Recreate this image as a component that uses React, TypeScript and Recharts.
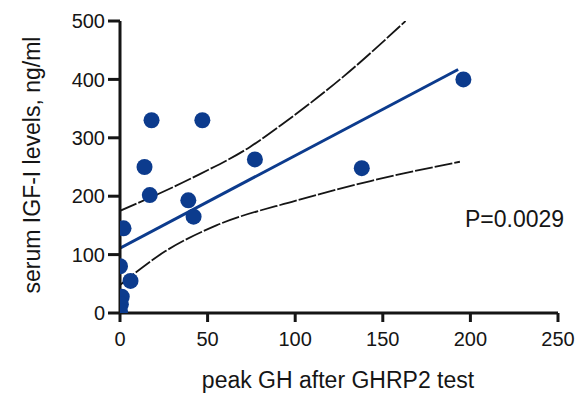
import { ComposedChart, XAxis, YAxis, Scatter, Line } from "recharts";

// peak GH (x) vs serum IGF-I (y)
const peakGH = [18, 47, 14, 17, 77, 138, 196, 39, 42, 2, 0, 6, 1, 0.5, 0];
const igf1 = [330, 330, 250, 202, 263, 248, 400, 193, 165, 145, 80, 55, 28, 15, 3];

// regression line end points
const fitX = [0, 193];
const fitY = [111, 417];

// 95% band, upper and lower curves
const upperX = [0, 45, 74, 92, 128, 163];
const upperY = [175, 237, 284, 322, 406, 500];
const lowerX = [0, 26, 55, 100, 143, 194];
const lowerY = [48, 106, 150, 192, 226, 259];

const xTicks = [0, 50, 100, 150, 200, 250];
const yTicks = [0, 100, 200, 300, 400, 500];

const BLUE = "#0c3b8d";
const INK = "#151515";
const FONT = '"Liberation Sans", Arial, sans-serif';

const pts = peakGH.map((x, i) => ({ x, y: igf1[i] }));
const fit = fitX.map((x, i) => ({ x, y: fitY[i] }));
const upper = upperX.map((x, i) => ({ x, y: upperY[i] }));
const lower = lowerX.map((x, i) => ({ x, y: lowerY[i] }));

const Dot = (p: any) => <circle cx={p.cx} cy={p.cy} r={8} fill={BLUE} />;

export default function App() {
  const tick = { fill: INK, fontSize: 20, fontFamily: FONT };
  const axisLine = { stroke: INK, strokeWidth: 3 };
  return (
    <div style={{ position: "absolute", left: 0, top: 0, width: 586, height: 395, background: "#fff" }}>
      <ComposedChart
        width={586}
        height={395}
        margin={{ top: 21, right: 28, bottom: 52, left: 60 }}
      >
        <XAxis
          type="number"
          dataKey="x"
          domain={[0, 250]}
          ticks={xTicks}
          height={30}
          tick={tick}
          tickSize={9}
          tickMargin={10}
          axisLine={axisLine}
          tickLine={axisLine}
          allowDataOverflow
        />
        <YAxis
          type="number"
          dataKey="y"
          domain={[0, 500]}
          ticks={yTicks}
          width={60}
          tick={tick}
          tickSize={12}
          tickMargin={3}
          axisLine={axisLine}
          tickLine={axisLine}
          allowDataOverflow
        />
        <Line data={upper} dataKey="y" type="monotone" stroke={INK} strokeWidth={1.8} strokeDasharray="18 2" dot={false} isAnimationActive={false} />
        <Line data={lower} dataKey="y" type="monotone" stroke={INK} strokeWidth={1.8} strokeDasharray="18 2" dot={false} isAnimationActive={false} />
        <Line data={fit} dataKey="y" type="linear" stroke={BLUE} strokeWidth={3} dot={false} isAnimationActive={false} />
        <Scatter data={pts} dataKey="y" shape={Dot} isAnimationActive={false} />
      </ComposedChart>
      <div
        style={{
          position: "absolute",
          left: 32,
          top: 165,
          transform: "translate(-50%, -50%) rotate(-90deg)",
          whiteSpace: "nowrap",
          fontFamily: FONT,
          fontSize: 23,
          color: INK,
        }}
      >
        serum IGF-I levels, ng/ml
      </div>
      <div
        style={{
          position: "absolute",
          left: 338,
          top: 380,
          transform: "translate(-50%, -50%)",
          whiteSpace: "nowrap",
          fontFamily: FONT,
          fontSize: 23,
          color: INK,
        }}
      >
        peak GH after GHRP2 test
      </div>
      <div
        style={{
          position: "absolute",
          left: 465,
          top: 206,
          whiteSpace: "nowrap",
          fontFamily: FONT,
          fontSize: 23,
          lineHeight: "27px",
          color: INK,
        }}
      >
        P=0.0029
      </div>
    </div>
  );
}
